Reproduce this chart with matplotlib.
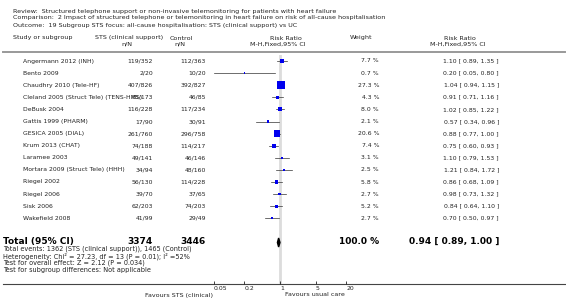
import matplotlib
matplotlib.use('Agg')
import matplotlib.pyplot as plt
import numpy as np

plt.rcParams['font.family'] = ['DejaVu Sans']

# data
studies = ['Angermann 2012 (INH)', 'Bento 2009', 'Chaudhry 2010 (Tele-HF)',
           'Cleland 2005 (Struct Tele) (TENS-HMS)', 'DeBusk 2004', 'Gattis 1999 (PHARM)',
           'GESICA 2005 (DIAL)', 'Krum 2013 (CHAT)', 'Laramee 2003',
           'Mortara 2009 (Struct Tele) (HHH)', 'Riegel 2002', 'Riegel 2006',
           'Sisk 2006', 'Wakefield 2008']
sts_events = [119, 2, 407, 85, 116, 17, 261, 74, 49, 34, 56, 39, 62, 41]
sts_total = [352, 20, 826, 173, 228, 90, 760, 188, 141, 94, 130, 70, 203, 99]
ctl_events = [112, 10, 392, 46, 117, 30, 296, 114, 46, 48, 114, 37, 74, 29]
ctl_total = [363, 20, 827, 85, 234, 91, 758, 217, 146, 160, 228, 65, 203, 49]
weights = [7.7, 0.7, 27.3, 4.3, 8.0, 2.1, 20.6, 7.4, 3.1, 2.5, 5.8, 2.7, 5.2, 2.7]
rr = [1.10, 0.20, 1.04, 0.91, 1.02, 0.57, 0.88, 0.75, 1.10, 1.21, 0.86, 0.98, 0.84, 0.70]
lo = [0.89, 0.05, 0.94, 0.71, 0.85, 0.34, 0.77, 0.60, 0.79, 0.84, 0.68, 0.73, 0.64, 0.50]
hi = [1.35, 0.80, 1.15, 1.16, 1.22, 0.96, 1.00, 0.93, 1.53, 1.72, 1.09, 1.32, 1.10, 0.97]
total_rr, total_lo, total_hi = 0.94, 0.89, 1.00
tick_vals = [0.05, 0.2, 1, 5, 20]
tick_labels = ['0.05', '0.2', '1', '5', '20']

W, H = 566, 301
fig = plt.figure(figsize=(W / 100, H / 100), dpi=100)
ax0 = fig.add_axes([0, 0, 1, 1])
ax0.set_xlim(0, W)
ax0.set_ylim(H, 0)
ax0.axis('off')

fs = 4.4
fh = 4.55
ff = 4.7
col = '#222222'

# header
ax0.text(13, 11, 'Review:  Structured telephone support or non-invasive telemonitoring for patients with heart failure',
         fontsize=fh, va='center', color=col)
ax0.text(13, 18, 'Comparison:  2 Impact of structured telephone or telemonitoring in heart failure on risk of all-cause hospitalisation',
         fontsize=fh, va='center', color=col)
ax0.text(13, 25, 'Outcome:  19 Subgroup STS focus: all-cause hospitalisation: STS (clinical support) vs UC',
         fontsize=fh, va='center', color=col)

ax0.text(13, 38, 'Study or subgroup', fontsize=fh, va='center', color=col)
ax0.text(95, 38, 'STS (clinical support)', fontsize=fh, va='center', color=col)
ax0.text(127, 44, 'n/N', fontsize=fh, va='center', ha='center', color=col)
ax0.text(170, 38, 'Control', fontsize=fh, va='center', color=col)
ax0.text(180, 44, 'n/N', fontsize=fh, va='center', ha='center', color=col)
ax0.text(286, 38, 'Risk Ratio', fontsize=fh, va='center', ha='center', color=col)
ax0.text(278, 44, 'M-H,Fixed,95% CI', fontsize=fh, va='center', ha='center', color=col)
ax0.text(361, 38, 'Weight', fontsize=fh, va='center', ha='center', color=col)
ax0.text(460, 38, 'Risk Ratio', fontsize=fh, va='center', ha='center', color=col)
ax0.text(458, 44, 'M-H,Fixed,95% CI', fontsize=fh, va='center', ha='center', color=col)
ax0.plot([3, 565], [51.5, 51.5], color='#999999', lw=1.4)

# rows
y0, dy = 61, 12.1
rows_y = [y0 + dy * i for i in range(len(studies))]
for i, y in enumerate(rows_y):
    ax0.text(23, y, studies[i], fontsize=fs, va='center', color=col)
    ax0.text(153, y, f'{sts_events[i]}/{sts_total[i]}', fontsize=fs, va='center', ha='right', color=col)
    ax0.text(206, y, f'{ctl_events[i]}/{ctl_total[i]}', fontsize=fs, va='center', ha='right', color=col)
    ax0.text(379, y, f'{weights[i]:.1f} %', fontsize=fs, va='center', ha='right', color=col)
    ax0.text(499, y, f'{rr[i]:.2f} [ {lo[i]:.2f}, {hi[i]:.2f} ]', fontsize=fs, va='center', ha='right', color=col)

# total
yt = y0 + dy * 15
fb = 6.5
ax0.text(3, yt - 0.8, 'Total (95% CI)', fontsize=fb, va='center', weight='bold', color='black')
ax0.text(153, yt - 0.8, str(sum(sts_total)), fontsize=fb, va='center', ha='right', weight='bold', color='black')
ax0.text(206, yt - 0.8, str(sum(ctl_total)), fontsize=fb, va='center', ha='right', weight='bold', color='black')
ax0.text(379, yt - 0.8, '100.0 %', fontsize=fb, va='center', ha='right', weight='bold', color='black')
ax0.text(499, yt - 0.8, f'{total_rr:.2f} [ {total_lo:.2f}, {total_hi:.2f} ]', fontsize=fb, va='center', ha='right',
         weight='bold', color='black')
foot = [f'Total events: {sum(sts_events)} (STS (clinical support)), {sum(ctl_events)} (Control)',
        'Heterogeneity: Chi² = 27.23, df = 13 (P = 0.01); I² =52%',
        'Test for overall effect: Z = 2.12 (P = 0.034)',
        'Test for subgroup differences: Not applicable']
for k, t in enumerate(foot):
    ax0.text(3, 249 + 7 * k, t, fontsize=ff, va='center', color=col)

# bottom line
ax0.plot([3, 565], [284, 284], color='#444444', lw=0.8)
ax0.text(213, 295, 'Favours STS (clinical)', fontsize=fh, va='center', ha='right', color=col)
ax0.text(285, 295, 'Favours usual care', fontsize=fh, va='center', ha='left', color=col)

# forest axes: 1 at x=280, 51 px per decade
px_dec = 51.0
x_lo = 280 + px_dec * np.log10(0.05)
x_hi = 280 + px_dec * np.log10(20)
ax = fig.add_axes([x_lo / W, 1 - 284 / H, (x_hi - x_lo) / W, (284 - 55) / H])
ax.patch.set_alpha(0)
ax.set_xscale('log')
ax.set_xlim(0.05, 20)
ax.set_ylim(284, 55)
for s in ax.spines.values():
    s.set_visible(False)
ax.set_yticks([])
ax.set_xticks(tick_vals)
ax.set_xticklabels(tick_labels)
ax.minorticks_off()
ax.tick_params(axis='x', direction='in', length=2.5, width=0.6, labelsize=fs, pad=1.5, colors=col)
for lab in ax.get_xticklabels():
    lab.set_horizontalalignment('left')

ax.plot([1, 1], [55, 284], color='#dcdcdc', lw=2.0, zorder=0)

wmax = max(weights)
for i, y in enumerate(rows_y):
    ax.plot([lo[i], hi[i]], [y, y], color='#333333', lw=0.5, zorder=2)
    side = 7.5 * np.sqrt(weights[i] / wmax)
    ax.scatter([rr[i]], [y], marker='s', s=(side * 0.72) ** 2, color='#0000ee',
               edgecolors='none', zorder=3)

# diamond
dh = 4.5
ax.fill([total_lo, total_rr, total_hi, total_rr], [yt, yt - dh, yt, yt + dh], color='black', zorder=3)

fig.savefig('out.png', dpi=100)
